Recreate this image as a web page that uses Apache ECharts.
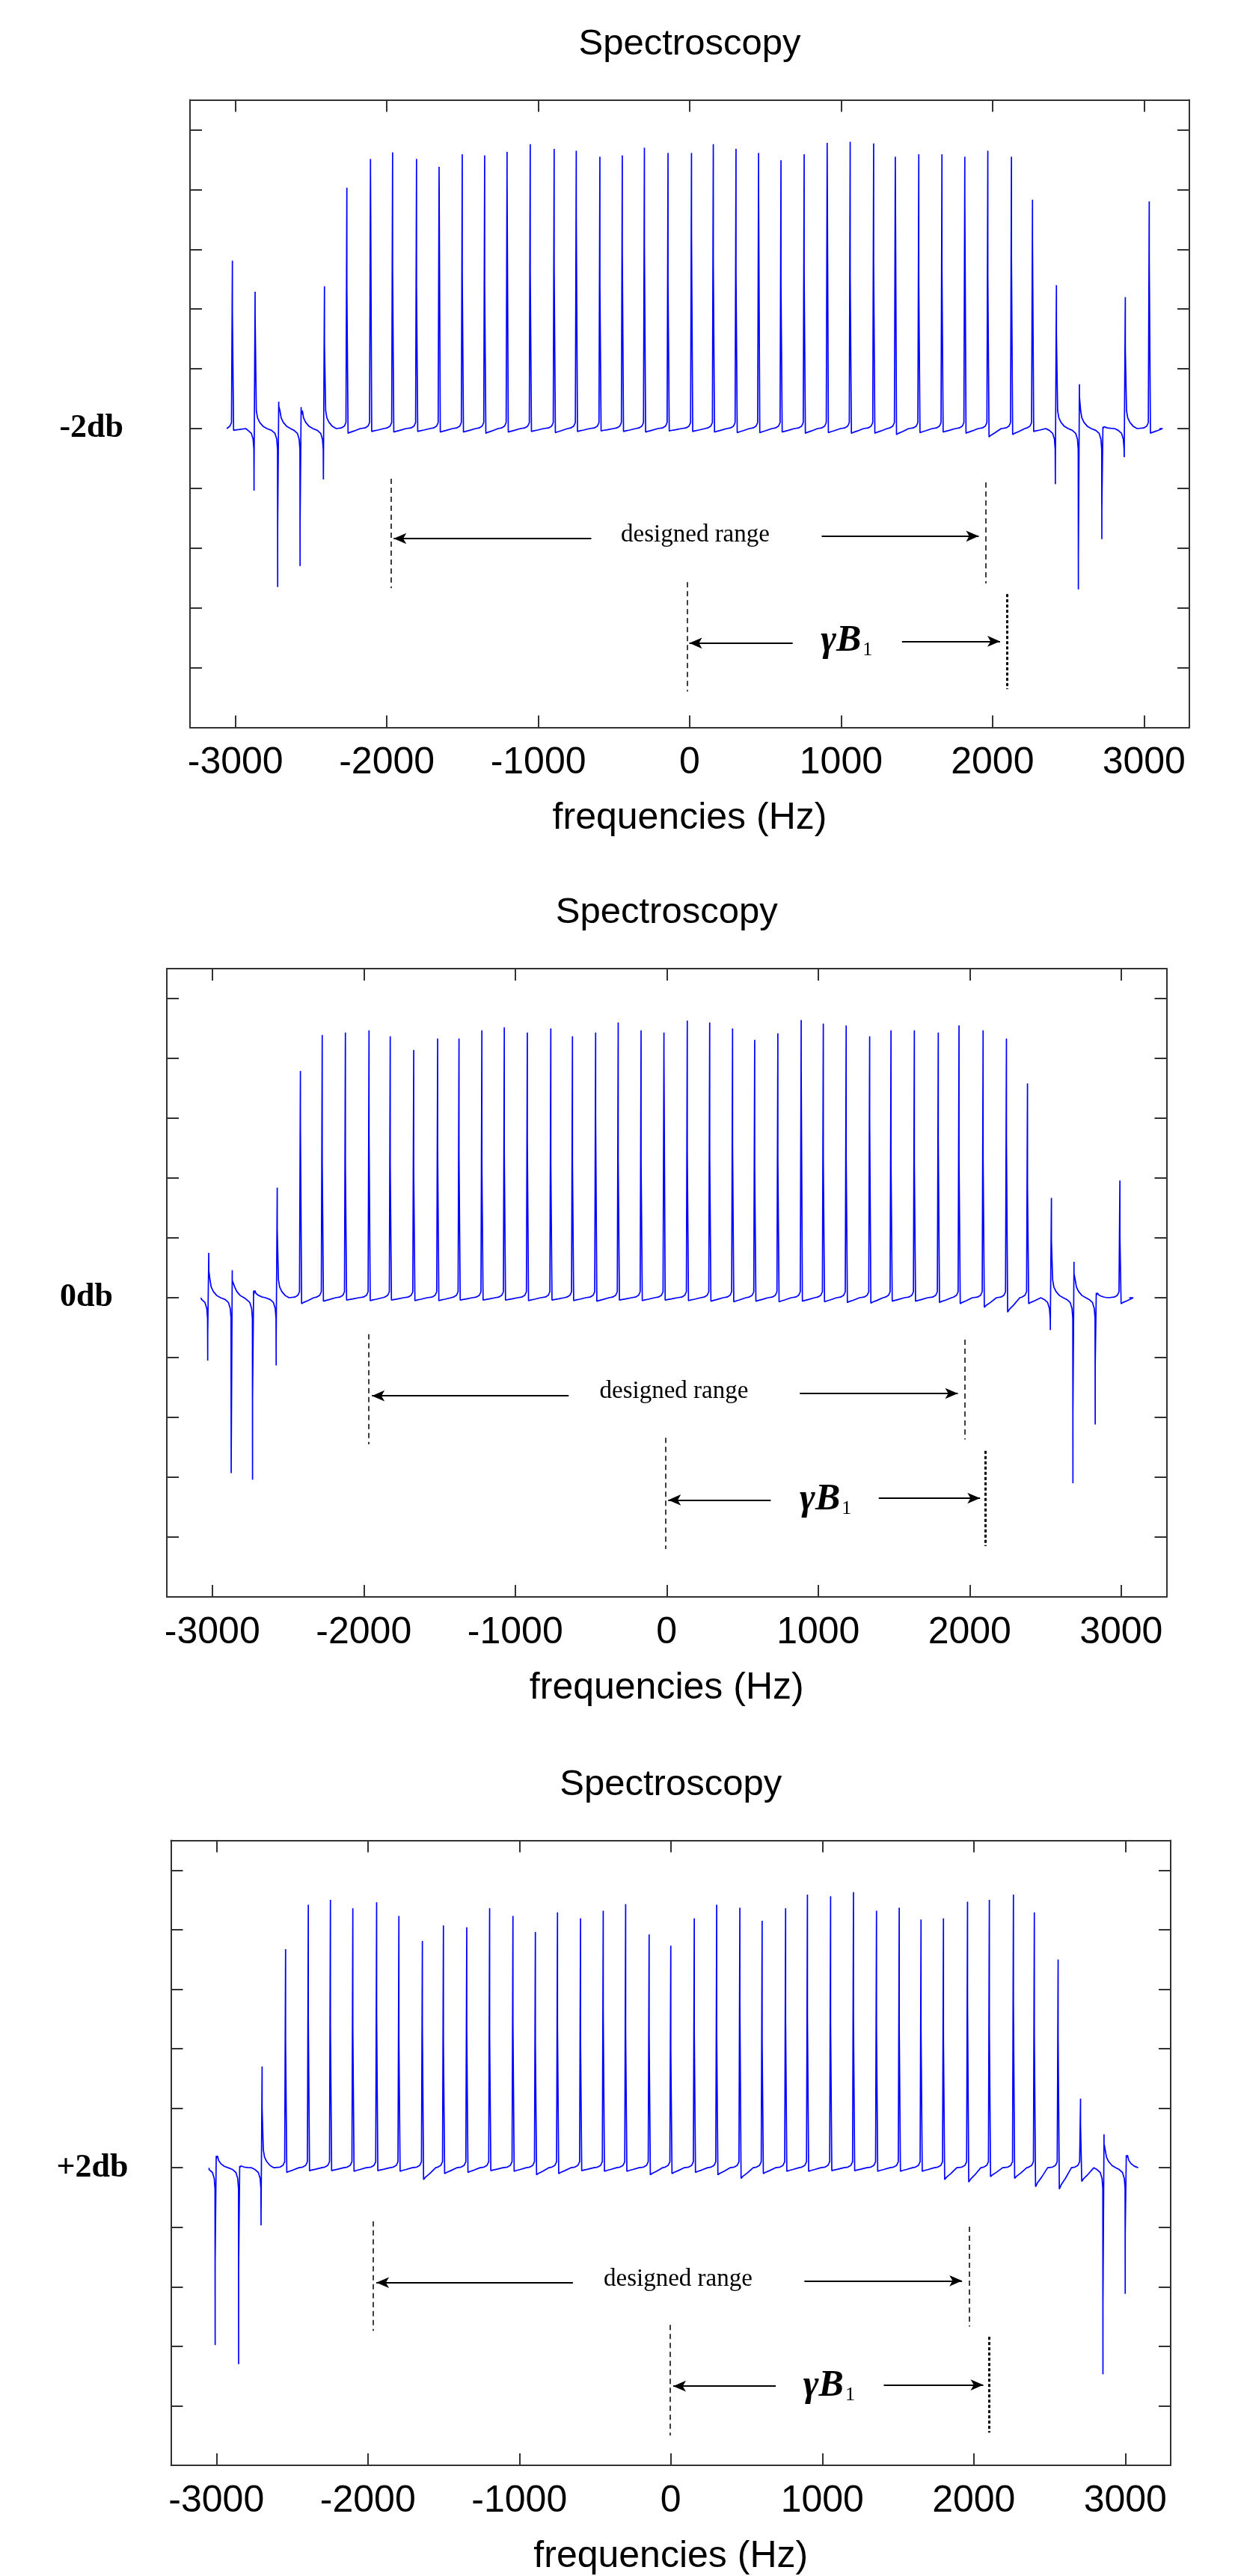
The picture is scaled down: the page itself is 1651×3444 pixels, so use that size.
<!DOCTYPE html>
<html>
<head>
<meta charset="utf-8">
<script src="https://cdn.jsdelivr.net/npm/echarts@6/dist/echarts.min.js"></script>
<style>html,body{margin:0;padding:0;background:#fff}#c{width:1651px;height:3444px}</style>
</head>
<body>
<div id="c"></div>
<script>
// ---------- data ----------
const xTicks = [-3000, -2000, -1000, 0, 1000, 2000, 3000];
const yTicks = [-4, -3, -2, -1, 0, 1, 2, 3, 4, 5];
const panelLabels = ['-2db', '0db', '+2db'];
const panelTitle = 'Spectroscopy';
const xName = 'frequencies (Hz)';

// panel 1 (-2db)
const freqs1 = [-3017,-2867,-2711,-2563,-2409,-2261,-2105,-1959,-1801,-1652,-1499,-1351,-1203,-1050,-892,-746,-590,-442,-296,-140,15,159,309,458,606,759,911,1063,1218,1361,1516,1669,1820,1972,2128,2267,2425,2577,2732,2880,3038];
const peak1 = [2.81,2.29,0.45,0.36,2.38,4.03,4.51,4.62,4.51,4.38,4.59,4.57,4.63,4.76,4.68,4.65,4.55,4.57,4.70,4.61,4.61,4.76,4.68,4.61,4.49,4.59,4.78,4.80,4.77,4.55,4.59,4.59,4.55,4.65,4.55,3.83,2.40,0.74,0.03,2.20,3.80];
const mid1 = [1.96,1.90,0.38,0.23,1.42,2.35,4.36,2.69,2.38,4.34,2.60,2.42,4.22,2.63,2.71,3.58,2.42,2.98,3.08,2.42,3.29,2.81,2.60,4.08,2.40,2.60,4.68,2.56,2.77,4.45,2.44,2.69,3.89,2.56,2.90,3.15,1.58,0.54,0.00,1.33,2.85];
const neg1 = [-0.03,-1.04,-2.65,-2.30,-0.85,-0.08,-0.05,-0.06,-0.05,-0.06,-0.06,-0.08,-0.06,-0.05,-0.07,-0.05,-0.04,-0.05,-0.06,-0.04,-0.05,-0.06,-0.07,-0.07,-0.06,-0.08,-0.07,-0.08,-0.08,-0.10,-0.07,-0.06,-0.08,-0.14,-0.10,-0.05,-0.93,-2.69,-1.85,-0.48,-0.08];
const negMid1 = [0,-0.72,-1.65,-1.60,-0.80,0,0,0,0,0,0,0,0,0,0,0,0,0,0,0,0,0,0,0,0,0,0,0,0,0,0,0,0,0,0,0,-0.70,-2.16,-1.34,-0.36,0];
const span1 = [-3057, 3102];

// panel 2 (0db)
const freqs2 = [-3020,-2865,-2724,-2568,-2415,-2271,-2118,-1962,-1822,-1667,-1509,-1368,-1217,-1069,-917,-762,-619,-466,-317,-166,-15,139,287,438,584,737,891,1037,1188,1343,1484,1638,1796,1933,2092,2246,2385,2543,2692,2839,2995];
const peak2 = [0.75,0.46,0.12,1.84,3.79,4.39,4.43,4.47,4.37,4.14,4.33,4.33,4.47,4.52,4.43,4.50,4.37,4.43,4.60,4.47,4.43,4.63,4.60,4.50,4.31,4.42,4.64,4.58,4.55,4.37,4.47,4.47,4.43,4.55,4.47,4.33,3.58,1.67,0.60,0.08,1.96];
const mid2 = [0.46,0.29,0.05,1.14,2.90,2.30,2.24,2.76,2.21,2.15,2.49,2.38,2.25,2.42,2.66,2.27,2.25,3.03,2.31,2.30,4.09,2.45,2.41,2.57,2.20,2.32,3.83,2.32,2.35,2.98,2.25,2.27,2.67,2.32,2.34,2.66,1.87,0.96,0.40,0.04,1.05];
const neg2 = [-1.05,-2.93,-3.04,-1.13,-0.10,-0.06,-0.04,-0.05,-0.04,-0.05,-0.05,-0.04,-0.04,-0.04,-0.05,-0.04,-0.05,-0.06,-0.04,-0.05,-0.04,-0.05,-0.06,-0.07,-0.06,-0.07,-0.06,-0.07,-0.08,-0.09,-0.06,-0.06,-0.08,-0.10,-0.16,-0.24,-0.10,-0.54,-3.10,-2.12,-0.10];
const negMid2 = [-0.63,-2.80,-1.69,-0.69,0,0,0,0,0,0,0,0,0,0,0,0,0,0,0,0,0,0,0,0,0,0,0,0,0,0,0,0,0,0,0,0,0,-0.35,-1.93,-1.15,0];
const span2 = [-3075, 3053];

// panel 3 (+2db)
const freqs3 = [-2998,-2843,-2695,-2540,-2390,-2244,-2096,-1939,-1792,-1637,-1498,-1344,-1193,-1039,-891,-745,-593,-443,-295,-140,3,158,306,459,606,761,905,1058,1209,1361,1511,1655,1803,1962,2106,2265,2403,2560,2708,2863,3010];
const peak3 = [0.20,0.03,1.70,3.67,4.42,4.50,4.36,4.46,4.23,3.81,4.07,4.04,4.36,4.23,3.96,4.29,4.19,4.32,4.43,3.92,3.73,4.19,4.42,4.37,4.15,4.36,4.59,4.56,4.63,4.32,4.37,4.17,4.19,4.47,4.50,4.59,4.29,3.50,1.16,0.56,0.21];
const mid3 = [0.15,0.00,1.00,2.15,2.51,2.38,2.32,2.60,2.18,2.37,2.10,2.32,2.24,2.44,2.10,2.41,2.18,2.65,2.29,2.26,1.99,2.34,2.26,2.74,2.14,2.49,2.60,2.43,2.52,2.37,2.37,2.31,2.18,2.79,2.35,2.78,2.26,2.22,0.73,0.40,0.17];
const neg3 = [-2.98,-3.30,-0.97,-0.08,-0.05,-0.05,-0.06,-0.05,-0.06,-0.20,-0.10,-0.08,-0.05,-0.06,-0.12,-0.10,-0.05,-0.06,-0.06,-0.12,-0.10,-0.08,-0.12,-0.18,-0.10,-0.06,-0.06,-0.05,-0.05,-0.06,-0.06,-0.06,-0.20,-0.24,-0.15,-0.18,-0.32,-0.36,-0.23,-3.47,-2.12];
const negMid3 = [-1.58,-1.70,-0.80,0,0,0,0,0,0,0,0,0,0,0,0,0,0,0,0,0,0,0,0,0,0,0,0,0,0,0,0,0,0,0,0,0,0,0,0,-2.29,-1.12];
const span3 = [-3048, 3083];

// annotation anchors (Hz, amplitude units)
const annot1 = {drL:-1970, drLY:[-0.84,-2.67], drR:1955, drRY:[-0.90,-2.59], arL:[[-650,-1.84],[-1955,-1.84]], arR:[[872,-1.80],[1909,-1.80]], drText:[37,-1.78],
  gbL:-15, gbLY:[-2.57,-4.40], gbR:2094, gbRY:[-2.77,-4.36], gaL:[[680,-3.59],[-2,-3.59]], gaR:[[1402,-3.56],[2050,-3.56]], gbText:[1036,-3.56]};
const annot2 = {drL:-1968, drLY:[-0.61,-2.45], drR:1966, drRY:[-0.70,-2.37], arL:[[-647,-1.64],[-1946,-1.64]], arR:[[879,-1.60],[1922,-1.60]], drText:[48,-1.57],
  gbL:-6, gbLY:[-2.34,-4.20], gbR:2103, gbRY:[-2.56,-4.15], gaL:[[687,-3.38],[10,-3.38]], gaR:[[1400,-3.35],[2069,-3.35]], gbText:[1049,-3.38]};
const annot3 = {drL:-1966, drLY:[-0.90,-2.74], drR:1968, drRY:[-0.99,-2.67], arL:[[-646,-1.93],[-1944,-1.93]], arR:[[882,-1.90],[1923,-1.90]], drText:[48,-1.87],
  gbL:-5, gbLY:[-2.64,-4.50], gbR:2103, gbRY:[-2.84,-4.45], gaL:[[693,-3.67],[16,-3.67]], gaR:[[1406,-3.65],[2063,-3.65]], gbText:[1045,-3.67]};

// ---------- build ----------
function buildTrace(fr, pk, md, ng, nm, span) {
  const pts = [[span[0], 0]];
  for (let i = 0; i < fr.length; i++) {
    const f = fr[i], P = pk[i], M = md[i], N = ng[i], Nm = nm[i];
    if (N < -0.4) {
      const t = Math.min(0.3, P);
      pts.push([f-50,-0.03],[f-28,-0.08],[f-16,-0.18],[f-11,-0.35],[f-10,N],[f-10,Nm],[f-3,Nm],[f-3,P],[f-3,M],[f+5,M],[f+5,t],[f+13,t*0.6],[f+27,t*0.35],[f+50,t*0.12],[f+75,0]);
    } else {
      pts.push([f-40,0.01],[f-20,0.04],[f-9,0.1],[f-3,0.12],[f-3,P],[f-3,M],[f+5,M],[f+5,N],[f+17,N*0.8],[f+45,N*0.5],[f+85,0]);
    }
  }
  pts.push([span[1], 0]);
  return pts;
}

const panels = [
  {trace: buildTrace(freqs1, peak1, mid1, neg1, negMid1, span1), a: annot1, grid:{left:254, top:133.5, width:1336, height:839}, labMargin:89},
  {trace: buildTrace(freqs2, peak2, mid2, neg2, negMid2, span2), a: annot2, grid:{left:223, top:1295, width:1336.5, height:840}, labMargin:72},
  {trace: buildTrace(freqs3, peak3, mid3, neg3, negMid3, span3), a: annot3, grid:{left:228.5, top:2460.5, width:1336.5, height:839.5}, labMargin:57}
];

const AX = '#333';
const SANS = 'Liberation Sans, Arial, sans-serif';
const SERIF = 'Liberation Serif, Times New Roman, serif';
const grids = [], xAxes = [], yAxes = [], series = [];
panels.forEach((p, g) => {
  grids.push(p.grid);
  const common = {type:'value', gridIndex:g, min:-3300, max:3300, splitLine:{show:false},
    axisLine:{show:true, onZero:false, lineStyle:{color:AX, width:2}},
    axisTick:{show:true, inside:true, length:16, customValues:xTicks, lineStyle:{color:AX, width:2}}};
  xAxes.push(Object.assign({}, common, {position:'bottom',
    axisLabel:{show:true, customValues:xTicks, margin:23, fontSize:50, fontFamily:SANS, color:'#000', formatter:v => String(v)},
    name:xName, nameLocation:'middle', nameGap:97,
    nameTextStyle:{fontSize:50, fontFamily:SANS, color:'#000'}}));
  xAxes.push(Object.assign({}, common, {position:'top', axisLabel:{show:false},
    name:panelTitle, nameLocation:'middle', nameGap:50,
    nameTextStyle:{fontSize:49, fontFamily:SANS, color:'#000'}}));
  const ycommon = {type:'value', gridIndex:g, min:-5, max:5.5, splitLine:{show:false},
    axisLine:{show:true, onZero:false, lineStyle:{color:AX, width:2}},
    axisTick:{show:true, inside:true, length:16, customValues:yTicks, lineStyle:{color:AX, width:2}}};
  yAxes.push(Object.assign({}, ycommon, {position:'left',
    axisLabel:{show:true, customValues:[0], margin:p.labMargin, formatter:() => panelLabels[g],
      fontSize:44, fontWeight:'bold', fontFamily:SERIF, color:'#000'}}));
  yAxes.push(Object.assign({}, ycommon, {position:'right', axisLabel:{show:false}}));

  const a = p.a;
  const dash = {type:[7,5], width:1.5, color:'#000'};
  const bold = {type:[4,3], width:3, color:'#000'};
  const arr = {type:'solid', width:2, color:'#000'};
  const vline = (x, ys, st) => [{coord:[x, ys[0]], symbol:'none', lineStyle:st}, {coord:[x, ys[1]], symbol:'none', lineStyle:st}];
  const arrow = (seg) => [{coord:seg[0], symbol:'none', lineStyle:arr}, {coord:seg[1], symbol:'arrow', symbolSize:[11,17], lineStyle:arr}];

  series.push({
    type:'line', xAxisIndex:g*2, yAxisIndex:g*2, data:p.trace, showSymbol:false, symbol:'none',
    lineStyle:{color:'#0000ff', width:1.7}, silent:true, animation:false, z:2,
    markLine:{silent:true, animation:false, label:{show:false}, symbol:['none','none'], precision:4,
      emphasis:{disabled:true},
      data:[vline(a.drL, a.drLY, dash), vline(a.drR, a.drRY, dash), vline(a.gbL, a.gbLY, dash), vline(a.gbR, a.gbRY, bold),
            arrow(a.arL), arrow(a.arR), arrow(a.gaL), arrow(a.gaR)]},
    markPoint:{silent:true, animation:false, symbol:'circle', symbolSize:1, itemStyle:{color:'rgba(0,0,0,0)'},
      data:[
        {coord:a.drText, label:{show:true, position:'inside', formatter:'designed range', fontSize:33, fontFamily:SERIF, color:'#000'}},
        {coord:a.gbText, label:{show:true, position:'inside', formatter:'{g|γB}{s|1}',
          rich:{g:{fontSize:50, fontStyle:'italic', fontWeight:'bold', fontFamily:SERIF, color:'#000'},
                s:{fontSize:26, fontFamily:SERIF, color:'#000', verticalAlign:'bottom', padding:[20,0,0,2]}}}}
      ]}
  });
});

const chart = echarts.init(document.getElementById('c'), null, {renderer:'canvas'});
chart.setOption({animation:false, backgroundColor:'#fff', grid:grids, xAxis:xAxes, yAxis:yAxes, series:series});
</script>
</body>
</html>
